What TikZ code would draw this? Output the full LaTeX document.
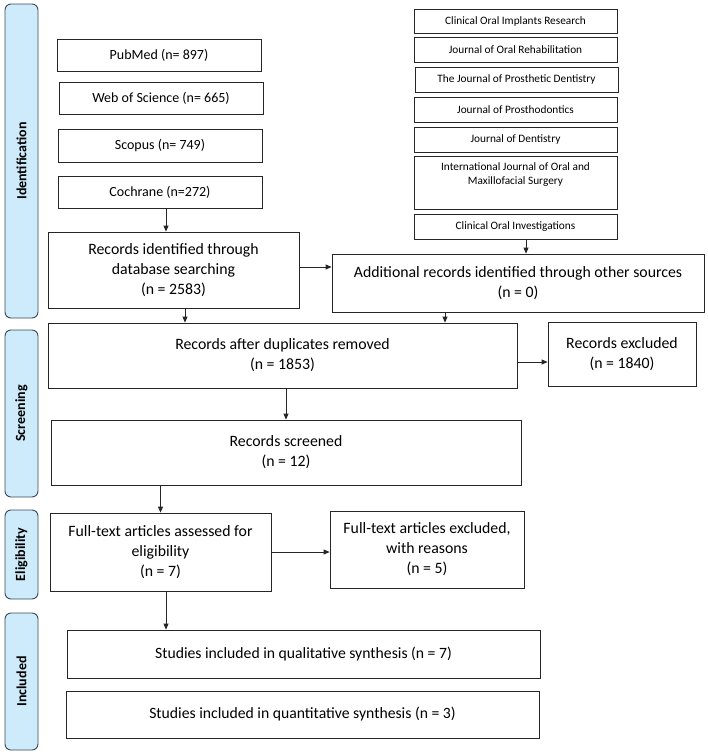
\documentclass[tikz,border=0pt]{standalone}
\usepackage{fontspec}
\setmainfont{Carlito}
\usetikzlibrary{arrows.meta,calc}
\definecolor{phasefill}{HTML}{CDEBFB}
\definecolor{phaseline}{HTML}{3A4A55}
\begin{document}
\begin{tikzpicture}[x=1pt,y=-1pt,
  box/.style={draw=black!85, line width=0.8pt, align=center, inner sep=0pt, font=\fontsize{15.8}{20}\selectfont},
  jbox/.style={box, font=\fontsize{11.3}{14}\selectfont},
  dbox/.style={box, font=\fontsize{14}{18}\selectfont},
  phase/.style={draw=phaseline, fill=phasefill, line width=0.9pt, rounded corners=6pt, inner sep=0pt},
  plabel/.style={rotate=90, font=\fontsize{14}{16}\selectfont\bfseries},
  arr/.style={-{Triangle[length=6pt,width=5pt]}, line width=0.8pt, draw=black!85}]
\useasboundingbox (0,0) rectangle (708,755);
\fill[white] (0,0) rectangle (708,755);
% phases
\node[phase, minimum width=33pt, minimum height=314pt] (pid) at (21.5,161) {};
\node[plabel] (pidt) at (pid.center) {Identification};
\node[phase, minimum width=33pt, minimum height=167pt] (pscr) at (21.5,413.5) {};
\node[plabel] (pscrt) at (pscr.center) {Screening};
\node[phase, minimum width=33pt, minimum height=89pt] (pel) at (21.5,554.5) {};
\node[plabel] (pelt) at (pel.center) {Eligibility};
\node[phase, minimum width=33pt, minimum height=137pt] (pin) at (21.5,681.5) {};
\node[plabel] (pint) at (pin.center) {Included};
% databases
\node[dbox, minimum width=204pt, minimum height=32pt] (pubmed) at (159,55) {PubMed (n= 897)};
\node[dbox, minimum width=204pt, minimum height=32pt] (wos) at (161,98) {Web of Science (n= 665)};
\node[dbox, minimum width=204pt, minimum height=33pt] (scopus) at (160,145.5) {Scopus (n= 749)};
\node[dbox, minimum width=204pt, minimum height=32pt] (cochrane) at (160,192) {Cochrane (n=272)};
% journals
\node[jbox, minimum width=203pt, minimum height=24pt] (j1) at (515.5,21) {Clinical Oral Implants Research};
\node[jbox, minimum width=203pt, minimum height=25pt] (j2) at (515.5,49.5) {Journal of Oral Rehabilitation};
\node[jbox, minimum width=203pt, minimum height=25pt] (j3) at (516.5,79.5) {The Journal of Prosthetic Dentistry};
\node[jbox, minimum width=203pt, minimum height=25pt] (j4) at (515.5,109.5) {Journal of Prosthodontics};
\node[jbox, minimum width=203pt, minimum height=25pt] (j5) at (515.5,139.5) {Journal of Dentistry};
\node[jbox, minimum width=203pt, minimum height=53pt] (j6) at (515.5,182.5) {};
\node[font=\fontsize{11.3}{14}\selectfont, align=center, anchor=north, inner sep=0pt] (j6t) at (515.5,162) {International Journal of Oral and\\Maxillofacial Surgery};
\node[jbox, minimum width=203pt, minimum height=25pt] (j7) at (515.5,226.5) {Clinical Oral Investigations};
% main flow
\node[box, minimum width=251pt, minimum height=76pt] (recid) at (173.5,270) {Records identified through\\database searching\\(n = 2583)};
\node[box, minimum width=372pt, minimum height=58pt] (add) at (518,283) {Additional records identified through other sources\\(n = 0)};
\node[box, minimum width=469pt, minimum height=65pt] (dup) at (282.5,355.5) {Records after duplicates removed\\(n = 1853)};
\node[box, minimum width=148pt, minimum height=64pt] (excl) at (622,354) {Records excluded\\(n = 1840)};
\node[box, minimum width=470pt, minimum height=65pt] (scr) at (286,452.5) {Records screened\\(n = 12)};
\node[box, minimum width=221pt, minimum height=78pt] (fta) at (160.5,552) {Full-text articles assessed for\\eligibility\\(n = 7)};
\node[box, minimum width=194pt, minimum height=77pt] (fte) at (427,549.5) {Full-text articles excluded,\\with reasons\\(n = 5)};
\node[box, minimum width=473pt, minimum height=48pt, font=\fontsize{15.7}{18}\selectfont] (qual) at (303.5,654) {Studies included in qualitative synthesis (n = 7)};
\node[box, minimum width=473pt, minimum height=47pt, font=\fontsize{15.7}{18}\selectfont] (quan) at (302.5,714.5) {Studies included in quantitative synthesis (n = 3)};
% connectors
\draw[arr] ([xshift=6pt]cochrane.south) -- ([xshift=6pt]cochrane.south |- recid.north);
\draw[arr] ([xshift=10.5pt]j7.south) -- ([xshift=10.5pt]j7.south |- add.north);
\draw[arr] ([yshift=3pt]recid.east) -- ([yshift=3pt]recid.east -| add.west);
\draw[arr] ([xshift=11.5pt]recid.south) -- ([xshift=11.5pt]recid.south |- dup.north);
\draw[arr] ([xshift=-73pt]add.south) -- ([xshift=-73pt]add.south |- dup.north);
\draw[arr] ([yshift=-6.5pt]dup.east) -- ([yshift=-6.5pt]dup.east -| excl.west);
\draw[arr] ([xshift=3.5pt]dup.south) -- ([xshift=3.5pt]dup.south |- scr.north);
\draw[arr] (scr.south -| fta.north) -- (fta.north);
\draw[arr] (fta.east) -- (fta.east -| fte.west);
\draw[arr] ([xshift=5.5pt]fta.south) -- ([xshift=5.5pt]fta.south |- qual.north);
\end{tikzpicture}
\end{document}
